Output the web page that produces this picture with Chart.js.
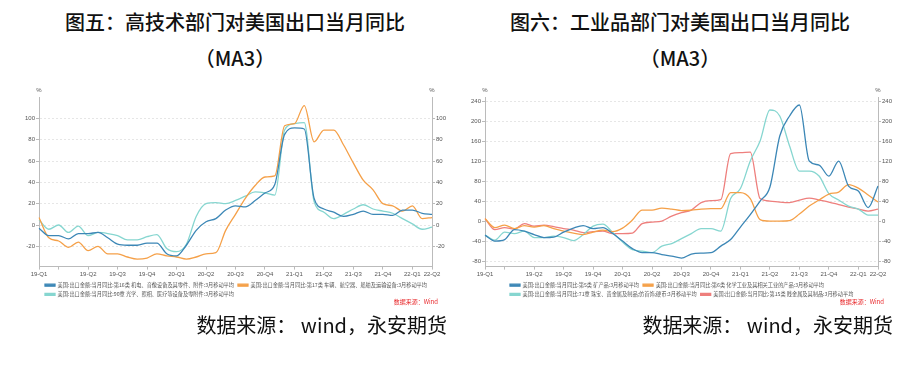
<!DOCTYPE html>
<html>
<head>
<meta charset="utf-8">
<script src="https://cdn.jsdelivr.net/npm/chart.js@4.4.0/dist/chart.umd.min.js"></script>
<style>
  body { margin: 0; width: 908px; height: 367px; background: #fff; position: relative; overflow: hidden;
         font-family: "Noto Sans CJK SC", sans-serif; }
  .title { position: absolute; width: 440px; font-size: 20px; line-height: 20px; color: #111;
           font-weight: 500; text-align: center; white-space: nowrap; }
  .foot { position: absolute; font-size: 20px; line-height: 20px; color: #111; text-align: right; white-space: nowrap; }
  canvas { position: absolute; }
</style>
</head>
<body>
<div class="title" style="left:15px;top:12px">图五：高技术部门对美国出口当月同比</div>
<div class="title" style="left:15px;top:48px">（MA3）</div>
<div class="title" style="left:460px;top:12px">图六：工业品部门对美国出口当月同比</div>
<div class="title" style="left:460px;top:48px">（MA3）</div>

<canvas id="left" width="444" height="232" style="left:10px;top:80px"></canvas>
<canvas id="right" width="450" height="232" style="left:456px;top:80px"></canvas>

<div class="foot" style="right:461px;top:315px">数据来源： wind，永安期货</div>
<div class="foot" style="right:15px;top:315px">数据来源： wind，永安期货</div>

<script>
const months = ['2018-11','2018-12','2019-01','2019-02','2019-03','2019-04','2019-05','2019-06','2019-07','2019-08',
  '2019-09','2019-10','2019-11','2019-12','2020-01','2020-02','2020-03','2020-04','2020-05','2020-06',
  '2020-07','2020-08','2020-09','2020-10','2020-11','2020-12','2021-01','2021-02','2021-03','2021-04',
  '2021-05','2021-06','2021-07','2021-08','2021-09','2021-10','2021-11','2021-12','2022-01','2022-02','2022-03'];

const tickIdx  = [0, 2, 5, 8, 11, 14, 17, 20, 23, 26, 29, 32, 35, 38, 40];
const tickText = ['19-Q1','','19-Q2','19-Q3','19-Q4','20-Q1','20-Q2','20-Q3','20-Q4','21-Q1','21-Q2','21-Q3','21-Q4','22-Q1','22-Q2'];

const leftTicks  = [-20, 0, 20, 40, 60, 80, 100];
const rightTicks = [-80, -40, 0, 40, 80, 120, 160, 200, 240];

// 图五
const mech16  = [-3,-10,-10,-13,-8,-8,-7,-12,-18,-19,-19,-17,-17,-27,-29,-19,-5,3,6,14,18,17,23,30,38,85,91,90,25,15,12,8,10,13,10,10,9,14,14,11,10];
const vehic17 = [7,-12,-15,-21,-16,-24,-20,-27,-27,-30,-32,-31,-27,-29,-30,-32,-30,-27,-26,-5,10,25,37,45,46,93,95,112,78,89,89,75,58,42,33,20,18,13,18,6,7];
const optic90 = [5,-4,0,-7,-1,-10,-7,-8,-10,-14,-14,-11,-9,-22,-25,-18,8,20,21,20,23,27,31,30,28,89,95,96,22,12,6,10,15,19,15,13,11,6,1,-4,-2];

// 图六
const mineral5 = [-28,-40,-37,-17,-20,-27,-33,-32,-22,-14,-9,-15,-13,-25,-40,-55,-63,-63,-67,-70,-74,-66,-64,-63,-50,-37,-12,13,40,68,170,210,232,120,112,90,120,70,60,27,70];
const chem6    = [5,-13,-8,-15,-9,-12,-9,-15,-20,-24,-27,-22,-18,-21,-14,2,22,22,26,24,21,22,24,25,25,57,57,45,3,0,0,1,14,30,42,54,58,73,66,52,38];
const jewel71  = [-28,-38,-22,-25,-20,-33,-33,-30,-33,-39,-27,-10,-6,-23,-42,-57,-60,-63,-50,-45,-35,-25,-15,-15,-20,45,65,120,160,222,210,150,100,100,90,55,42,30,24,12,12];
const metal15  = [5,-17,-13,-16,-5,-10,-8,-11,-15,-18,-23,-21,-20,-25,-25,-24,-5,-2,0,10,17,22,37,41,43,135,137,138,45,40,38,37,42,46,42,38,33,28,24,20,24];

const BLUE = '#3c87b6', ORANGE = '#f5a048', TEAL = '#86d6d0', RED = '#ee7f7d';
const TICK_FONT = { family: '"Liberation Sans", Arial, sans-serif', size: 6 };

const notes = {
  id: 'notes',
  afterDraw(chart) {
    const { ctx, chartArea: a } = chart;
    ctx.save();
    ctx.font = '6px "Liberation Sans", Arial, sans-serif';
    ctx.fillStyle = '#555';
    ctx.textAlign = 'center';
    ctx.textBaseline = 'middle';
    ctx.fillText('%', a.left, a.top - 7);
    ctx.fillText('%', a.right, a.top - 7);
    ctx.font = '6px "Noto Sans CJK SC", sans-serif';
    ctx.fillStyle = '#e8272a';
    ctx.textAlign = 'right';
    ctx.fillText('数据来源：Wind', a.right + 6, chart.height - 10);
    ctx.restore();
  }
};

const shiftLegend = {
  id: 'shiftLegend',
  afterUpdate(chart, args, opts) {
    chart.legend.left += opts.dx;
    chart.legend.right += opts.dx;
  }
};

function yAxis(pos, min, max, ticks, width, grid) {
  return {
    position: pos, min, max,
    afterBuildTicks: s => { s.ticks = ticks.map(v => ({ value: v })); },
    afterFit: s => { s.width = width; },
    ticks: { color: '#555', font: TICK_FONT, padding: 1 },
    grid: { drawOnChartArea: grid, color: '#e6e6e6', tickColor: '#bbb', tickLength: 3 },
    border: { color: '#bbb', dash: [2, 2] }
  };
}

function makeChart(id, series, yMin, yMax, ticks, wl, wr, dx) {
  new Chart(document.getElementById(id), {
    type: 'line',
    data: {
      labels: months,
      datasets: series.map(s => ({
        label: s.label, data: s.data, borderColor: s.color, backgroundColor: s.color,
        borderWidth: 1.3, pointRadius: 0, cubicInterpolationMode: 'monotone'
      }))
    },
    options: {
      responsive: false,
      animation: false,
      layout: { padding: { top: 17, bottom: 5 } },
      scales: {
        x: {
          afterBuildTicks: s => { s.ticks = tickIdx.map(v => ({ value: v })); },
          afterFit: s => { s.height = 12; },
          ticks: {
            autoSkip: false, maxRotation: 0, minRotation: 0, color: '#555', font: TICK_FONT, padding: 1,
            callback: (v) => tickText[tickIdx.indexOf(v)]
          },
          grid: { drawOnChartArea: false, color: '#bbb', tickLength: 3 },
          border: { color: '#bbb' }
        },
        y: yAxis('left', yMin, yMax, ticks, wl, true),
        y2: yAxis('right', yMin, yMax, ticks, wr, false)
      },
      plugins: {
        tooltip: { enabled: false },
        shiftLegend: { dx },
        legend: {
          position: 'bottom', align: 'start',
          labels: {
            boxWidth: 10, boxHeight: 2, padding: 4, color: '#555',
            font: { family: '"Noto Sans CJK SC", sans-serif', size: 5.2 }
          }
        }
      }
    },
    plugins: [notes, shiftLegend]
  });
}

makeChart('left', [
  { label: '美国:出口金额:当月同比:第16类 机电、音像设备及其零件、附件:3月移动平均', data: mech16, color: BLUE },
  { label: '美国:出口金额:当月同比:第17类 车辆、航空器、船舶及运输设备:3月移动平均', data: vehic17, color: ORANGE },
  { label: '美国:出口金额:当月同比:90章 光学、照相、医疗等设备及零附件:3月移动平均', data: optic90, color: TEAL }
], -39, 120, leftTicks, 29, 22, 31);

makeChart('right', [
  { label: '美国:出口金额:当月同比:第5类 矿产品:3月移动平均', data: mineral5, color: BLUE },
  { label: '美国:出口金额:当月同比:第6类 化学工业及其相关工业的产品:3月移动平均', data: chem6, color: ORANGE },
  { label: '美国:出口金额:当月同比:71章 珠宝、贵金属及制品;仿首饰;硬币:3月移动平均', data: jewel71, color: TEAL },
  { label: '美国:出口金额:当月同比:第15类 贱金属及其制品:3月移动平均', data: metal15, color: RED }
], -91, 248, rightTicks, 29, 28, 50);
</script>
</body>
</html>
